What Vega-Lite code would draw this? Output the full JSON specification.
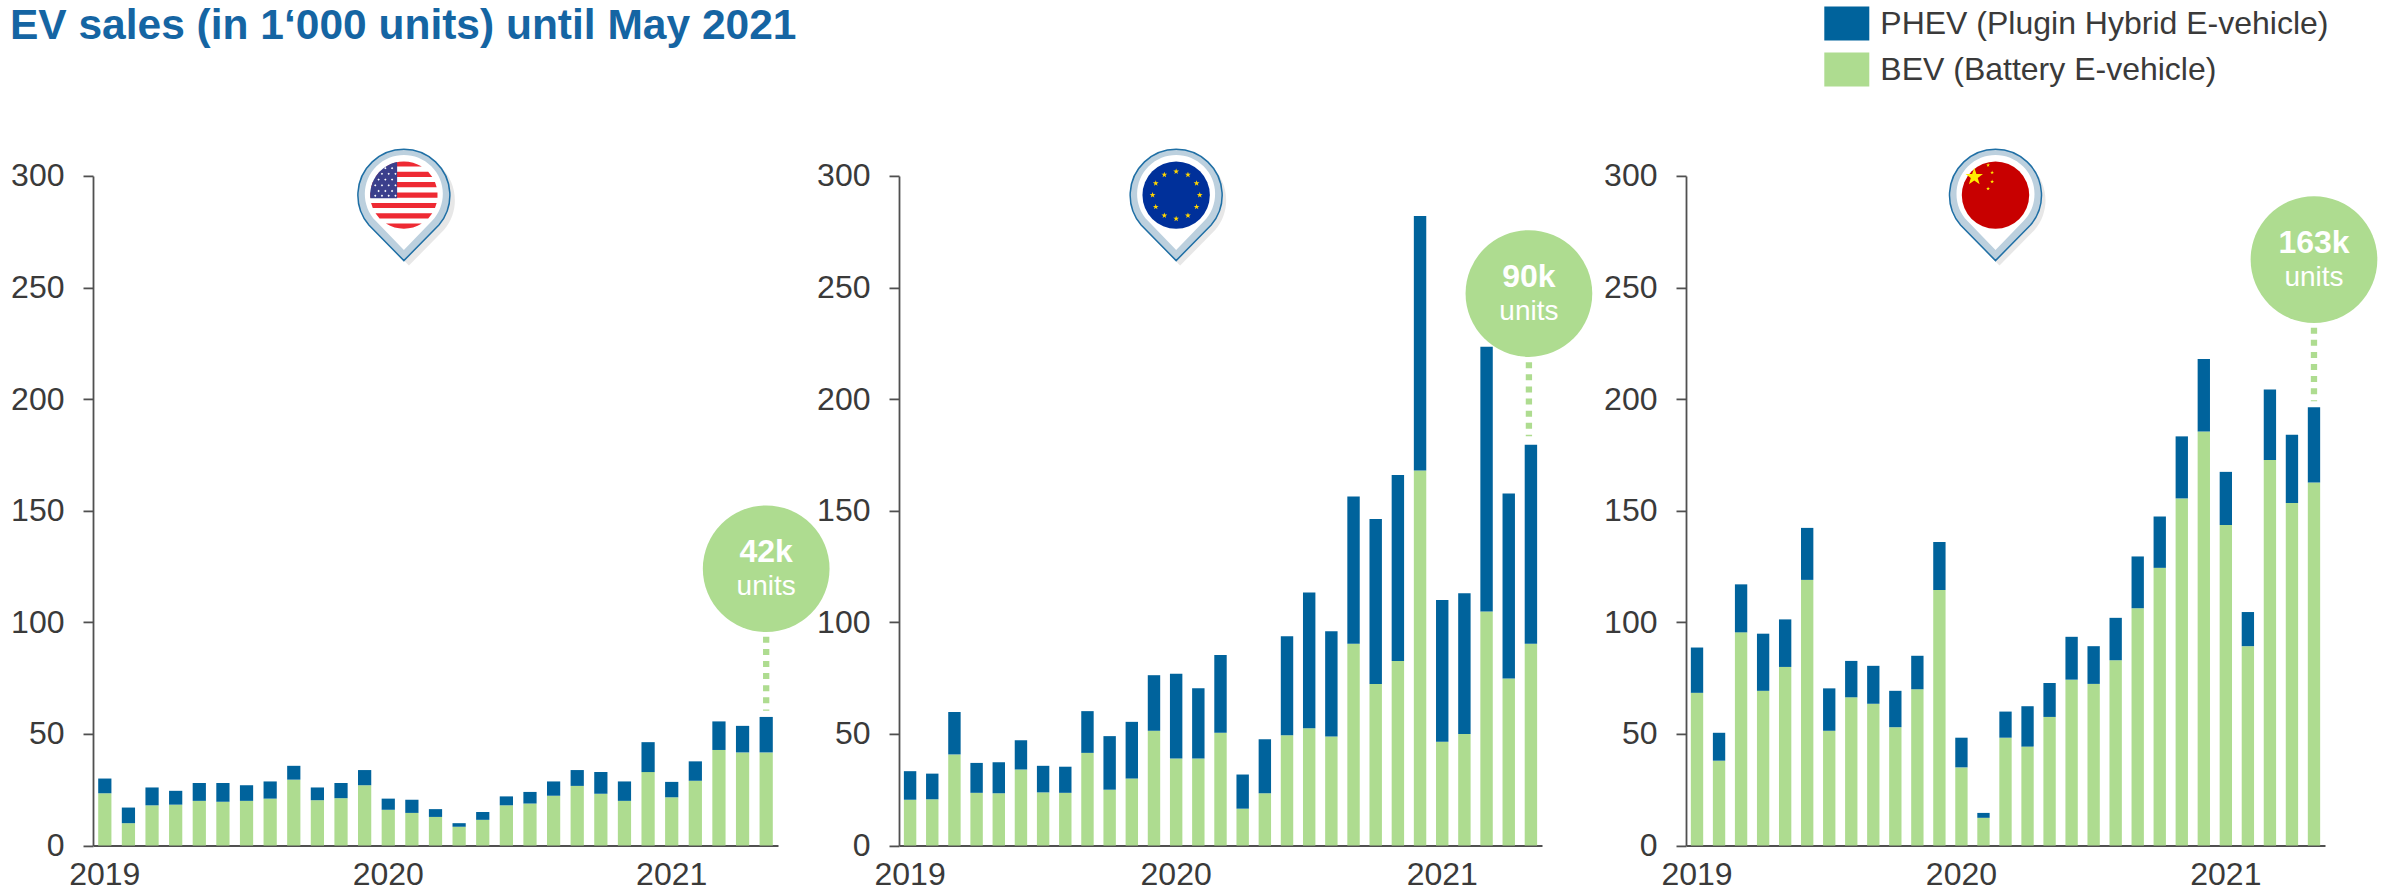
{"$schema":"https://vega.github.io/schema/vega-lite/v6.json","padding":{"left":9,"top":0.9,"right":0,"bottom":0},"background":"white",
"title":{"text":"EV sales (in 1‘000 units) until May 2021","anchor":"start","frame":"bounds","font":"Liberation Sans","fontWeight":"bold","fontSize":42.5,"color":"#1565a3","offset":-46.1,"dx":-0.7},
"config":{"view":{"stroke":null},"font":"Liberation Sans",
"axisY":{"title":null,"grid":false,"labelFont":"Liberation Sans","labelFontSize":32,"labelColor":"#3a3a3a","labelPadding":19,"tickSize":10,"tickColor":"#505050","tickWidth":1.8,"domainColor":"#505050","domainWidth":1.8},
"axisX":{"title":null,"grid":false,"labelAngle":0,"labelFont":"Liberation Sans","labelFontSize":32,"labelColor":"#3a3a3a","labelPadding":14,"ticks":false,"domainColor":"#505050","domainWidth":1.8}},
"datasets":{
"sales":[
{"r":"US","m":"2019-01","t":"BEV","v":23.4},{"r":"US","m":"2019-01","t":"PHEV","v":6.6},{"r":"US","m":"2019-02","t":"BEV","v":10},{"r":"US","m":"2019-02","t":"PHEV","v":7},{"r":"US","m":"2019-03","t":"BEV","v":18},{"r":"US","m":"2019-03","t":"PHEV","v":8},{"r":"US","m":"2019-04","t":"BEV","v":18.3},{"r":"US","m":"2019-04","t":"PHEV","v":6.2},{"r":"US","m":"2019-05","t":"BEV","v":20},{"r":"US","m":"2019-05","t":"PHEV","v":8},{"r":"US","m":"2019-06","t":"BEV","v":19.6},{"r":"US","m":"2019-06","t":"PHEV","v":8.4},{"r":"US","m":"2019-07","t":"BEV","v":20},{"r":"US","m":"2019-07","t":"PHEV","v":7},{"r":"US","m":"2019-08","t":"BEV","v":21},{"r":"US","m":"2019-08","t":"PHEV","v":7.7},{"r":"US","m":"2019-09","t":"BEV","v":29.5},{"r":"US","m":"2019-09","t":"PHEV","v":6.2},{"r":"US","m":"2019-10","t":"BEV","v":20.3},{"r":"US","m":"2019-10","t":"PHEV","v":5.7},{"r":"US","m":"2019-11","t":"BEV","v":21.2},{"r":"US","m":"2019-11","t":"PHEV","v":6.8},{"r":"US","m":"2019-12","t":"BEV","v":27},{"r":"US","m":"2019-12","t":"PHEV","v":6.8},{"r":"US","m":"2020-01","t":"BEV","v":16},{"r":"US","m":"2020-01","t":"PHEV","v":5},{"r":"US","m":"2020-02","t":"BEV","v":14.6},{"r":"US","m":"2020-02","t":"PHEV","v":5.9},{"r":"US","m":"2020-03","t":"BEV","v":12.8},{"r":"US","m":"2020-03","t":"PHEV","v":3.5},{"r":"US","m":"2020-04","t":"BEV","v":8.4},{"r":"US","m":"2020-04","t":"PHEV","v":1.6},{"r":"US","m":"2020-05","t":"BEV","v":11.5},{"r":"US","m":"2020-05","t":"PHEV","v":3.5},{"r":"US","m":"2020-06","t":"BEV","v":18},{"r":"US","m":"2020-06","t":"PHEV","v":4},{"r":"US","m":"2020-07","t":"BEV","v":18.8},{"r":"US","m":"2020-07","t":"PHEV","v":5.2},{"r":"US","m":"2020-08","t":"BEV","v":22.3},{"r":"US","m":"2020-08","t":"PHEV","v":6.4},{"r":"US","m":"2020-09","t":"BEV","v":26.7},{"r":"US","m":"2020-09","t":"PHEV","v":7.1},{"r":"US","m":"2020-10","t":"BEV","v":23.2},{"r":"US","m":"2020-10","t":"PHEV","v":9.7},{"r":"US","m":"2020-11","t":"BEV","v":20},{"r":"US","m":"2020-11","t":"PHEV","v":8.7},{"r":"US","m":"2020-12","t":"BEV","v":32.9},{"r":"US","m":"2020-12","t":"PHEV","v":13.4},{"r":"US","m":"2021-01","t":"BEV","v":21.6},{"r":"US","m":"2021-01","t":"PHEV","v":6.9},{"r":"US","m":"2021-02","t":"BEV","v":29},{"r":"US","m":"2021-02","t":"PHEV","v":8.7},{"r":"US","m":"2021-03","t":"BEV","v":42.8},{"r":"US","m":"2021-03","t":"PHEV","v":12.8},{"r":"US","m":"2021-04","t":"BEV","v":41.7},{"r":"US","m":"2021-04","t":"PHEV","v":11.9},{"r":"US","m":"2021-05","t":"BEV","v":41.7},{"r":"US","m":"2021-05","t":"PHEV","v":15.9},
{"r":"EU","m":"2019-01","t":"BEV","v":20.5},{"r":"EU","m":"2019-01","t":"PHEV","v":12.8},{"r":"EU","m":"2019-02","t":"BEV","v":20.7},{"r":"EU","m":"2019-02","t":"PHEV","v":11.5},{"r":"EU","m":"2019-03","t":"BEV","v":40.8},{"r":"EU","m":"2019-03","t":"PHEV","v":19},{"r":"EU","m":"2019-04","t":"BEV","v":23.6},{"r":"EU","m":"2019-04","t":"PHEV","v":13.4},{"r":"EU","m":"2019-05","t":"BEV","v":23.4},{"r":"EU","m":"2019-05","t":"PHEV","v":13.9},{"r":"EU","m":"2019-06","t":"BEV","v":34},{"r":"EU","m":"2019-06","t":"PHEV","v":13.2},{"r":"EU","m":"2019-07","t":"BEV","v":23.8},{"r":"EU","m":"2019-07","t":"PHEV","v":11.9},{"r":"EU","m":"2019-08","t":"BEV","v":23.6},{"r":"EU","m":"2019-08","t":"PHEV","v":11.7},{"r":"EU","m":"2019-09","t":"BEV","v":41.5},{"r":"EU","m":"2019-09","t":"PHEV","v":18.7},{"r":"EU","m":"2019-10","t":"BEV","v":25},{"r":"EU","m":"2019-10","t":"PHEV","v":24},{"r":"EU","m":"2019-11","t":"BEV","v":30},{"r":"EU","m":"2019-11","t":"PHEV","v":25.4},{"r":"EU","m":"2019-12","t":"BEV","v":51.4},{"r":"EU","m":"2019-12","t":"PHEV","v":24.9},{"r":"EU","m":"2020-01","t":"BEV","v":39},{"r":"EU","m":"2020-01","t":"PHEV","v":38},{"r":"EU","m":"2020-02","t":"BEV","v":39},{"r":"EU","m":"2020-02","t":"PHEV","v":31.4},{"r":"EU","m":"2020-03","t":"BEV","v":50.5},{"r":"EU","m":"2020-03","t":"PHEV","v":34.9},{"r":"EU","m":"2020-04","t":"BEV","v":16.5},{"r":"EU","m":"2020-04","t":"PHEV","v":15.3},{"r":"EU","m":"2020-05","t":"BEV","v":23.4},{"r":"EU","m":"2020-05","t":"PHEV","v":24.2},{"r":"EU","m":"2020-06","t":"BEV","v":49.4},{"r":"EU","m":"2020-06","t":"PHEV","v":44.4},{"r":"EU","m":"2020-07","t":"BEV","v":52.5},{"r":"EU","m":"2020-07","t":"PHEV","v":60.9},{"r":"EU","m":"2020-08","t":"BEV","v":48.8},{"r":"EU","m":"2020-08","t":"PHEV","v":47.2},{"r":"EU","m":"2020-09","t":"BEV","v":90.4},{"r":"EU","m":"2020-09","t":"PHEV","v":66},{"r":"EU","m":"2020-10","t":"BEV","v":72.4},{"r":"EU","m":"2020-10","t":"PHEV","v":73.9},{"r":"EU","m":"2020-11","t":"BEV","v":82.7},{"r":"EU","m":"2020-11","t":"PHEV","v":83.3},{"r":"EU","m":"2020-12","t":"BEV","v":168},{"r":"EU","m":"2020-12","t":"PHEV","v":114},{"r":"EU","m":"2021-01","t":"BEV","v":46.5},{"r":"EU","m":"2021-01","t":"PHEV","v":63.5},{"r":"EU","m":"2021-02","t":"BEV","v":49.9},{"r":"EU","m":"2021-02","t":"PHEV","v":63.1},{"r":"EU","m":"2021-03","t":"BEV","v":104.8},{"r":"EU","m":"2021-03","t":"PHEV","v":118.7},{"r":"EU","m":"2021-04","t":"BEV","v":74.8},{"r":"EU","m":"2021-04","t":"PHEV","v":82.9},{"r":"EU","m":"2021-05","t":"BEV","v":90.4},{"r":"EU","m":"2021-05","t":"PHEV","v":89.2},
{"r":"CN","m":"2019-01","t":"BEV","v":68.4},{"r":"CN","m":"2019-01","t":"PHEV","v":20.3},{"r":"CN","m":"2019-02","t":"BEV","v":38},{"r":"CN","m":"2019-02","t":"PHEV","v":12.5},{"r":"CN","m":"2019-03","t":"BEV","v":95.5},{"r":"CN","m":"2019-03","t":"PHEV","v":21.5},{"r":"CN","m":"2019-04","t":"BEV","v":69.3},{"r":"CN","m":"2019-04","t":"PHEV","v":25.6},{"r":"CN","m":"2019-05","t":"BEV","v":80},{"r":"CN","m":"2019-05","t":"PHEV","v":21.3},{"r":"CN","m":"2019-06","t":"BEV","v":119},{"r":"CN","m":"2019-06","t":"PHEV","v":23.3},{"r":"CN","m":"2019-07","t":"BEV","v":51.4},{"r":"CN","m":"2019-07","t":"PHEV","v":19},{"r":"CN","m":"2019-08","t":"BEV","v":66.4},{"r":"CN","m":"2019-08","t":"PHEV","v":16.3},{"r":"CN","m":"2019-09","t":"BEV","v":63.5},{"r":"CN","m":"2019-09","t":"PHEV","v":17},{"r":"CN","m":"2019-10","t":"BEV","v":53},{"r":"CN","m":"2019-10","t":"PHEV","v":16.3},{"r":"CN","m":"2019-11","t":"BEV","v":70},{"r":"CN","m":"2019-11","t":"PHEV","v":15},{"r":"CN","m":"2019-12","t":"BEV","v":114.5},{"r":"CN","m":"2019-12","t":"PHEV","v":21.5},{"r":"CN","m":"2020-01","t":"BEV","v":35},{"r":"CN","m":"2020-01","t":"PHEV","v":13.3},{"r":"CN","m":"2020-02","t":"BEV","v":12.4},{"r":"CN","m":"2020-02","t":"PHEV","v":2.2},{"r":"CN","m":"2020-03","t":"BEV","v":48.3},{"r":"CN","m":"2020-03","t":"PHEV","v":11.7},{"r":"CN","m":"2020-04","t":"BEV","v":44.3},{"r":"CN","m":"2020-04","t":"PHEV","v":18.1},{"r":"CN","m":"2020-05","t":"BEV","v":57.6},{"r":"CN","m":"2020-05","t":"PHEV","v":15.2},{"r":"CN","m":"2020-06","t":"BEV","v":74.3},{"r":"CN","m":"2020-06","t":"PHEV","v":19.2},{"r":"CN","m":"2020-07","t":"BEV","v":72.4},{"r":"CN","m":"2020-07","t":"PHEV","v":16.9},{"r":"CN","m":"2020-08","t":"BEV","v":83},{"r":"CN","m":"2020-08","t":"PHEV","v":19},{"r":"CN","m":"2020-09","t":"BEV","v":106.3},{"r":"CN","m":"2020-09","t":"PHEV","v":23.2},{"r":"CN","m":"2020-10","t":"BEV","v":124.4},{"r":"CN","m":"2020-10","t":"PHEV","v":23},{"r":"CN","m":"2020-11","t":"BEV","v":155.5},{"r":"CN","m":"2020-11","t":"PHEV","v":27.8},{"r":"CN","m":"2020-12","t":"BEV","v":185.5},{"r":"CN","m":"2020-12","t":"PHEV","v":32.5},{"r":"CN","m":"2021-01","t":"BEV","v":143.6},{"r":"CN","m":"2021-01","t":"PHEV","v":23.8},{"r":"CN","m":"2021-02","t":"BEV","v":89.3},{"r":"CN","m":"2021-02","t":"PHEV","v":15.3},{"r":"CN","m":"2021-03","t":"BEV","v":172.7},{"r":"CN","m":"2021-03","t":"PHEV","v":31.6},{"r":"CN","m":"2021-04","t":"BEV","v":153.5},{"r":"CN","m":"2021-04","t":"PHEV","v":30.5},{"r":"CN","m":"2021-05","t":"BEV","v":162.6},{"r":"CN","m":"2021-05","t":"PHEV","v":33.7}
],
"callouts":[{"r":"US","m":"2021-05","bubble":124,"from":93.5,"to":60.4,"label":"42k"},{"r":"EU","m":"2021-05","bubble":247.3,"from":216.5,"to":183.4,"label":"90k"},{"r":"CN","m":"2021-05","bubble":262.5,"from":232,"to":199,"label":"163k"}],
"pins":[{"r":"US","m":"2020-02","y":291.4},{"r":"EU","m":"2020-01","y":291.4},{"r":"CN","m":"2020-03","y":291.4}]
},
"bounds":"flush","spacing":36,
"hconcat":[
{"width":685,"height":669.6,"layer":[
{"data":{"name":"pins"},"transform":[{"filter":"datum.r=='US'"}],"mark":{"type":"point","filled":true,"opacity":0.14,"fill":"#555555","xOffset":-3,"yOffset":5,"size":10000,"shape":"M-.7,.6A.92,.92,0,1,1,.7,.6L0,1.31Z"},"encoding":{"x":{"field":"m","type":"ordinal","scale":{"paddingInner":0.44,"paddingOuter":0.22},"sort":"ascending","axis":{"values":["2019-01","2020-01","2021-01"],"labelExpr":"slice(datum.value,0,4)"}},"y":{"field":"y","type":"quantitative","scale":{"domain":[0,300],"nice":false},"axis":{"values":[0,50,100,150,200,250,300]}}}},
{"mark":{"type":"rule","color":"#8a8a8a","strokeWidth":1.5},"encoding":{"y":{"datum":150}}},
{"data":{"name":"sales"},"transform":[{"filter":"datum.r=='US'"}],"mark":{"type":"bar"},"encoding":{"x":{"field":"m","type":"ordinal","sort":"ascending"},"y":{"field":"v","type":"quantitative","stack":"zero"},"order":{"field":"t","sort":"ascending"},"color":{"field":"t","type":"nominal","scale":{"domain":["PHEV","BEV"],"range":["#00639c","#aedc90"]},"legend":{"title":null,"orient":"none","legendX":1731.3,"legendY":-174.8,"symbolType":"M-1,-.756H1V.756H-1Z","symbolSize":2025,"symbolStrokeWidth":0,"labelFont":"Liberation Sans","labelFontSize":32,"labelColor":"#3a3a3a","labelLimit":700,"labelOffset":11,"rowPadding":6,"padding":0,"labelExpr":"datum.label=='BEV'?'BEV (Battery E-vehicle)':'PHEV (Plugin Hybrid E-vehicle)'"}}}},
{"data":{"name":"pins"},"transform":[{"filter":"datum.r=='US'"}],"layer":[
{"mark":{"type":"point","filled":true,"opacity":1,"fill":"#bcd0de","stroke":"#1f6fa5","strokeWidth":1.5,"xOffset":-8,"size":10000,"shape":"M-.7,.6A.92,.92,0,1,1,.7,.6L0,1.31Z"}},
{"mark":{"type":"point","filled":true,"opacity":1,"fill":"#ffffff","strokeWidth":0,"xOffset":-8,"size":10000,"shape":"M-.56,.52A.78,.78,0,1,1,.56,.52L0,1.1Z"}},
{"mark":{"type":"point","filled":true,"opacity":1,"fill":"#ee2a33","strokeWidth":0,"xOffset":-8,"size":4543,"shape":"M-.533,-.846A1,1,0,0,1,.533,-.846ZM-.722,-.692L.722,-.692L.843,-.538L-.843,-.538ZM-.923,-.385L.923,-.385L.973,-.231L-.973,-.231ZM-.997,-.077L.997,-.077L.997,.077L-.997,.077ZM-.973,.231L.973,.231L.923,.385L-.923,.385ZM-.843,.538L.843,.538L.722,.692L-.722,.692ZM-.533,.846L.533,.846A1,1,0,0,1,-.533,.846Z"}},
{"mark":{"type":"point","filled":true,"opacity":1,"fill":"#3b3f8c","strokeWidth":0,"xOffset":-8,"size":4543,"shape":"M-.2,.09L-.2,-.98A1,1,0,0,0,-.996,.09Z"}},
{"mark":{"type":"point","filled":true,"opacity":1,"fill":"#ffffff","strokeWidth":0,"xOffset":-8,"size":4543,"shape":"M-.35,-.835l.035,.035,-.035,.035,-.035,-.035zM-.55,-.835l.035,.035,-.035,.035,-.035,-.035zM-.25,-.665l.035,.035,-.035,.035,-.035,-.035zM-.45,-.665l.035,.035,-.035,.035,-.035,-.035zM-.65,-.665l.035,.035,-.035,.035,-.035,-.035zM-.35,-.495l.035,.035,-.035,.035,-.035,-.035zM-.55,-.495l.035,.035,-.035,.035,-.035,-.035zM-.75,-.495l.035,.035,-.035,.035,-.035,-.035zM-.25,-.325l.035,.035,-.035,.035,-.035,-.035zM-.45,-.325l.035,.035,-.035,.035,-.035,-.035zM-.65,-.325l.035,.035,-.035,.035,-.035,-.035zM-.85,-.325l.035,.035,-.035,.035,-.035,-.035zM-.35,-.155l.035,.035,-.035,.035,-.035,-.035zM-.55,-.155l.035,.035,-.035,.035,-.035,-.035zM-.75,-.155l.035,.035,-.035,.035,-.035,-.035zM-.25,-.015l.035,.035,-.035,.035,-.035,-.035zM-.45,-.015l.035,.035,-.035,.035,-.035,-.035zM-.65,-.015l.035,.035,-.035,.035,-.035,-.035zM-.85,-.015l.035,.035,-.035,.035,-.035,-.035z"}}
],"encoding":{"x":{"field":"m","type":"ordinal","sort":"ascending"},"y":{"field":"y","type":"quantitative"}}},
{"data":{"name":"callouts"},"transform":[{"filter":"datum.r=='US'"}],"layer":[
{"mark":{"type":"rule","color":"#aedc90","strokeWidth":6.3,"strokeDash":[6,6.1]},"encoding":{"y":{"field":"from","type":"quantitative"},"y2":{"field":"to"}}},
{"mark":{"type":"point","filled":true,"opacity":1,"fill":"#aedc90","strokeWidth":0,"shape":"circle","size":16053},"encoding":{"y":{"field":"bubble","type":"quantitative"}}},
{"mark":{"type":"text","font":"Liberation Sans","fontWeight":"bold","fontSize":32,"color":"#ffffff","baseline":"middle","dy":-16.3},"encoding":{"y":{"field":"bubble","type":"quantitative"},"text":{"field":"label"}}},
{"mark":{"type":"text","font":"Liberation Sans","fontSize":28,"color":"#ffffff","baseline":"middle","dy":18.3,"text":"units"},"encoding":{"y":{"field":"bubble","type":"quantitative"}}}
],"encoding":{"x":{"field":"m","type":"ordinal","sort":"ascending"}}}
]},
{"width":49,"height":669.6,"data":{"values":[]},"mark":{"type":"point"}},
{"width":643,"height":669.6,"layer":[
{"data":{"name":"pins"},"transform":[{"filter":"datum.r=='EU'"}],"mark":{"type":"point","filled":true,"opacity":0.14,"fill":"#555555","xOffset":4,"yOffset":5,"size":10000,"shape":"M-.7,.6A.92,.92,0,1,1,.7,.6L0,1.31Z"},"encoding":{"x":{"field":"m","type":"ordinal","scale":{"paddingInner":0.44,"paddingOuter":0.22},"sort":"ascending","axis":{"values":["2019-01","2020-01","2021-01"],"labelExpr":"slice(datum.value,0,4)"}},"y":{"field":"y","type":"quantitative","scale":{"domain":[0,300],"nice":false},"axis":{"values":[0,50,100,150,200,250,300]}}}},
{"mark":{"type":"rule","color":"#8a8a8a","strokeWidth":1.5},"encoding":{"y":{"datum":150}}},
{"data":{"name":"sales"},"transform":[{"filter":"datum.r=='EU'"}],"mark":{"type":"bar"},"encoding":{"x":{"field":"m","type":"ordinal","sort":"ascending"},"y":{"field":"v","type":"quantitative","stack":"zero"},"order":{"field":"t","sort":"ascending"},"color":{"field":"t","type":"nominal","scale":{"domain":["PHEV","BEV"],"range":["#00639c","#aedc90"]}}}},
{"data":{"name":"pins"},"transform":[{"filter":"datum.r=='EU'"}],"layer":[
{"mark":{"type":"point","filled":true,"opacity":1,"fill":"#bcd0de","stroke":"#1f6fa5","strokeWidth":1.5,"size":10000,"shape":"M-.7,.6A.92,.92,0,1,1,.7,.6L0,1.31Z"}},
{"mark":{"type":"point","filled":true,"opacity":1,"fill":"#ffffff","strokeWidth":0,"size":10000,"shape":"M-.56,.52A.78,.78,0,1,1,.56,.52L0,1.1Z"}},
{"mark":{"type":"point","filled":true,"opacity":1,"fill":"#00309a","strokeWidth":0,"shape":"circle","size":4543}},
{"mark":{"type":"point","filled":true,"opacity":1,"fill":"#ffd500","strokeWidth":0,"size":4543,"shape":"M0,-.79l.021,.061,.065,.001,-.052,.039,.019,.062,-.053,-.037,-.053,.037,.019,-.062,-.052,-.039,.065,-.001zM.35,-.696l.021,.061,.065,.001,-.052,.039,.019,.062,-.053,-.037,-.053,.037,.019,-.062,-.052,-.039,.065,-.001zM.606,-.44l.021,.061,.065,.001,-.052,.039,.019,.062,-.053,-.037,-.053,.037,.019,-.062,-.052,-.039,.065,-.001zM.7,-.09l.021,.061,.065,.001,-.052,.039,.019,.062,-.053,-.037,-.053,.037,.019,-.062,-.052,-.039,.065,-.001zM.606,.26l.021,.061,.065,.001,-.052,.039,.019,.062,-.053,-.037,-.053,.037,.019,-.062,-.052,-.039,.065,-.001zM.35,.516l.021,.061,.065,.001,-.052,.039,.019,.062,-.053,-.037,-.053,.037,.019,-.062,-.052,-.039,.065,-.001zM0,.61l.021,.061,.065,.001,-.052,.039,.019,.062,-.053,-.037,-.053,.037,.019,-.062,-.052,-.039,.065,-.001zM-.35,.516l.021,.061,.065,.001,-.052,.039,.019,.062,-.053,-.037,-.053,.037,.019,-.062,-.052,-.039,.065,-.001zM-.606,.26l.021,.061,.065,.001,-.052,.039,.019,.062,-.053,-.037,-.053,.037,.019,-.062,-.052,-.039,.065,-.001zM-.7,-.09l.021,.061,.065,.001,-.052,.039,.019,.062,-.053,-.037,-.053,.037,.019,-.062,-.052,-.039,.065,-.001zM-.606,-.44l.021,.061,.065,.001,-.052,.039,.019,.062,-.053,-.037,-.053,.037,.019,-.062,-.052,-.039,.065,-.001zM-.35,-.696l.021,.061,.065,.001,-.052,.039,.019,.062,-.053,-.037,-.053,.037,.019,-.062,-.052,-.039,.065,-.001z"}}
],"encoding":{"x":{"field":"m","type":"ordinal","sort":"ascending"},"y":{"field":"y","type":"quantitative"}}},
{"data":{"name":"callouts"},"transform":[{"filter":"datum.r=='EU'"}],"layer":[
{"mark":{"type":"rule","color":"#aedc90","strokeWidth":6.3,"strokeDash":[6,6.1],"xOffset":-2},"encoding":{"y":{"field":"from","type":"quantitative"},"y2":{"field":"to"}}},
{"mark":{"type":"point","filled":true,"opacity":1,"fill":"#aedc90","strokeWidth":0,"shape":"circle","size":16053,"xOffset":-2},"encoding":{"y":{"field":"bubble","type":"quantitative"}}},
{"mark":{"type":"text","font":"Liberation Sans","fontWeight":"bold","fontSize":32,"color":"#ffffff","baseline":"middle","dy":-16.3,"dx":-2},"encoding":{"y":{"field":"bubble","type":"quantitative"},"text":{"field":"label"}}},
{"mark":{"type":"text","font":"Liberation Sans","fontSize":28,"color":"#ffffff","baseline":"middle","dy":18.3,"dx":-2,"text":"units"},"encoding":{"y":{"field":"bubble","type":"quantitative"}}}
],"encoding":{"x":{"field":"m","type":"ordinal","sort":"ascending"}}}
]},
{"width":72,"height":669.6,"data":{"values":[]},"mark":{"type":"point"}},
{"width":639,"height":669.6,"layer":[
{"data":{"name":"pins"},"transform":[{"filter":"datum.r=='CN'"}],"mark":{"type":"point","filled":true,"opacity":0.14,"fill":"#555555","xOffset":-6,"yOffset":5,"size":10000,"shape":"M-.7,.6A.92,.92,0,1,1,.7,.6L0,1.31Z"},"encoding":{"x":{"field":"m","type":"ordinal","scale":{"paddingInner":0.44,"paddingOuter":0.22},"sort":"ascending","axis":{"values":["2019-01","2020-01","2021-01"],"labelExpr":"slice(datum.value,0,4)"}},"y":{"field":"y","type":"quantitative","scale":{"domain":[0,300],"nice":false},"axis":{"values":[0,50,100,150,200,250,300]}}}},
{"mark":{"type":"rule","color":"#8a8a8a","strokeWidth":1.5},"encoding":{"y":{"datum":150}}},
{"data":{"name":"sales"},"transform":[{"filter":"datum.r=='CN'"}],"mark":{"type":"bar"},"encoding":{"x":{"field":"m","type":"ordinal","sort":"ascending"},"y":{"field":"v","type":"quantitative","stack":"zero"},"order":{"field":"t","sort":"ascending"},"color":{"field":"t","type":"nominal","scale":{"domain":["PHEV","BEV"],"range":["#00639c","#aedc90"]}}}},
{"data":{"name":"pins"},"transform":[{"filter":"datum.r=='CN'"}],"layer":[
{"mark":{"type":"point","filled":true,"opacity":1,"fill":"#bcd0de","stroke":"#1f6fa5","strokeWidth":1.5,"xOffset":-10,"size":10000,"shape":"M-.7,.6A.92,.92,0,1,1,.7,.6L0,1.31Z"}},
{"mark":{"type":"point","filled":true,"opacity":1,"fill":"#ffffff","strokeWidth":0,"xOffset":-10,"size":10000,"shape":"M-.56,.52A.78,.78,0,1,1,.56,.52L0,1.1Z"}},
{"mark":{"type":"point","filled":true,"opacity":1,"fill":"#c80000","strokeWidth":0,"xOffset":-10,"shape":"circle","size":4543}},
{"mark":{"type":"point","filled":true,"opacity":1,"fill":"#ffee00","strokeWidth":0,"xOffset":-10,"size":4543,"shape":"M-.63,-.81l.063,.183,.195,.003,-.156,.117,.057,.186,-.159,-.111,-.159,.111,.057,-.186,-.156,-.117,.195,-.003zM-.22,-.95l.014,.041,.043,.001,-.035,.026,.013,.041,-.035,-.025,-.035,.025,.013,-.041,-.035,-.026,.043,-.001zM-.1,-.73l.014,.041,.043,.001,-.035,.026,.013,.041,-.035,-.025,-.035,.025,.013,-.041,-.035,-.026,.043,-.001zM-.1,-.46l.014,.041,.043,.001,-.035,.026,.013,.041,-.035,-.025,-.035,.025,.013,-.041,-.035,-.026,.043,-.001zM-.22,-.25l.014,.041,.043,.001,-.035,.026,.013,.041,-.035,-.025,-.035,.025,.013,-.041,-.035,-.026,.043,-.001z"}}
],"encoding":{"x":{"field":"m","type":"ordinal","sort":"ascending"},"y":{"field":"y","type":"quantitative"}}},
{"data":{"name":"callouts"},"transform":[{"filter":"datum.r=='CN'"}],"layer":[
{"mark":{"type":"rule","color":"#aedc90","strokeWidth":6.3,"strokeDash":[6,6.1]},"encoding":{"y":{"field":"from","type":"quantitative"},"y2":{"field":"to"}}},
{"mark":{"type":"point","filled":true,"opacity":1,"fill":"#aedc90","strokeWidth":0,"shape":"circle","size":16053},"encoding":{"y":{"field":"bubble","type":"quantitative"}}},
{"mark":{"type":"text","font":"Liberation Sans","fontWeight":"bold","fontSize":32,"color":"#ffffff","baseline":"middle","dy":-16.3},"encoding":{"y":{"field":"bubble","type":"quantitative"},"text":{"field":"label"}}},
{"mark":{"type":"text","font":"Liberation Sans","fontSize":28,"color":"#ffffff","baseline":"middle","dy":18.3,"text":"units"},"encoding":{"y":{"field":"bubble","type":"quantitative"}}}
],"encoding":{"x":{"field":"m","type":"ordinal","sort":"ascending"}}}
]}
]}
